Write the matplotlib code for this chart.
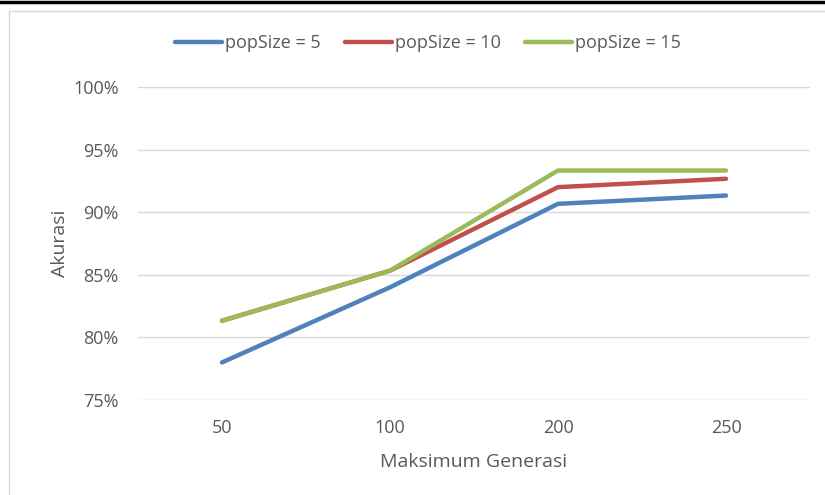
import matplotlib
matplotlib.use("Agg")
import matplotlib.pyplot as plt
from matplotlib.lines import Line2D
from matplotlib.ticker import FuncFormatter

categories = ["50", "100", "200", "250"]
pop5 = [0.78, 0.84, 0.9067, 0.9133]
pop10 = [0.8133, 0.8533, 0.92, 0.9267]
pop15 = [0.8133, 0.8533, 0.9333, 0.9333]
labels = ["popSize = 5", "popSize = 10", "popSize = 15"]
colors = ["#4F81BD", "#C0504D", "#9BBB59"]
yticks = [0.75, 0.80, 0.85, 0.90, 0.95, 1.00]

plt.rcParams['font.family'] = ['Open Sans', 'DejaVu Sans']
W, H = 825, 495
fig = plt.figure(figsize=(W / 100, H / 100), dpi=100)
ax = fig.add_axes([138 / W, 1 - 400 / H, (810 - 138) / W, (400 - 87) / H])

x = list(range(len(categories)))
for series, lab, c in zip([pop5, pop10, pop15], labels, colors):
    ax.plot(x, series, color=c, lw=3.2, label=lab, solid_capstyle='round', solid_joinstyle='round')

ax.set_xlim(-0.5, len(categories) - 0.5)
ax.set_ylim(0.75, 1.0)
ax.set_xticks(x)
ax.set_xticklabels(categories)
ax.set_yticks(yticks)
ax.yaxis.set_major_formatter(FuncFormatter(lambda v, p: f"{v*100:.0f}%"))
ax.grid(axis='y', color='#D9D9D9', lw=1)
ax.set_axisbelow(True)
for s in ax.spines.values():
    s.set_visible(False)
ax.tick_params(length=0, colors='#595959', labelsize=13)
ax.tick_params(axis='x', pad=14)
ax.tick_params(axis='y', pad=14)
ax.set_xlabel("Maksimum Generasi", color='#595959', fontsize=14, labelpad=11)
ax.set_ylabel("Akurasi", color='#595959', fontsize=14, labelpad=3)

leg = fig.legend(loc='center', bbox_to_anchor=(428 / W, 1 - 43 / H), ncol=3, frameon=False,
                 fontsize=13, handlelength=2.6, handletextpad=0.15, columnspacing=1.35)
for t in leg.get_texts():
    t.set_color('#595959')

# chart frame decorations
fig.add_artist(Line2D([0, 1], [1 - 1.5 / H, 1 - 1.5 / H], color='black', lw=2.5, transform=fig.transFigure))
fig.add_artist(Line2D([8.5 / W, 1], [1 - 10.5 / H, 1 - 10.5 / H], color='#D9D9D9', lw=1, transform=fig.transFigure))
fig.add_artist(Line2D([8.5 / W, 8.5 / W], [0, 1 - 10.5 / H], color='#D9D9D9', lw=1, transform=fig.transFigure))

fig.savefig("out.png", dpi=100)
